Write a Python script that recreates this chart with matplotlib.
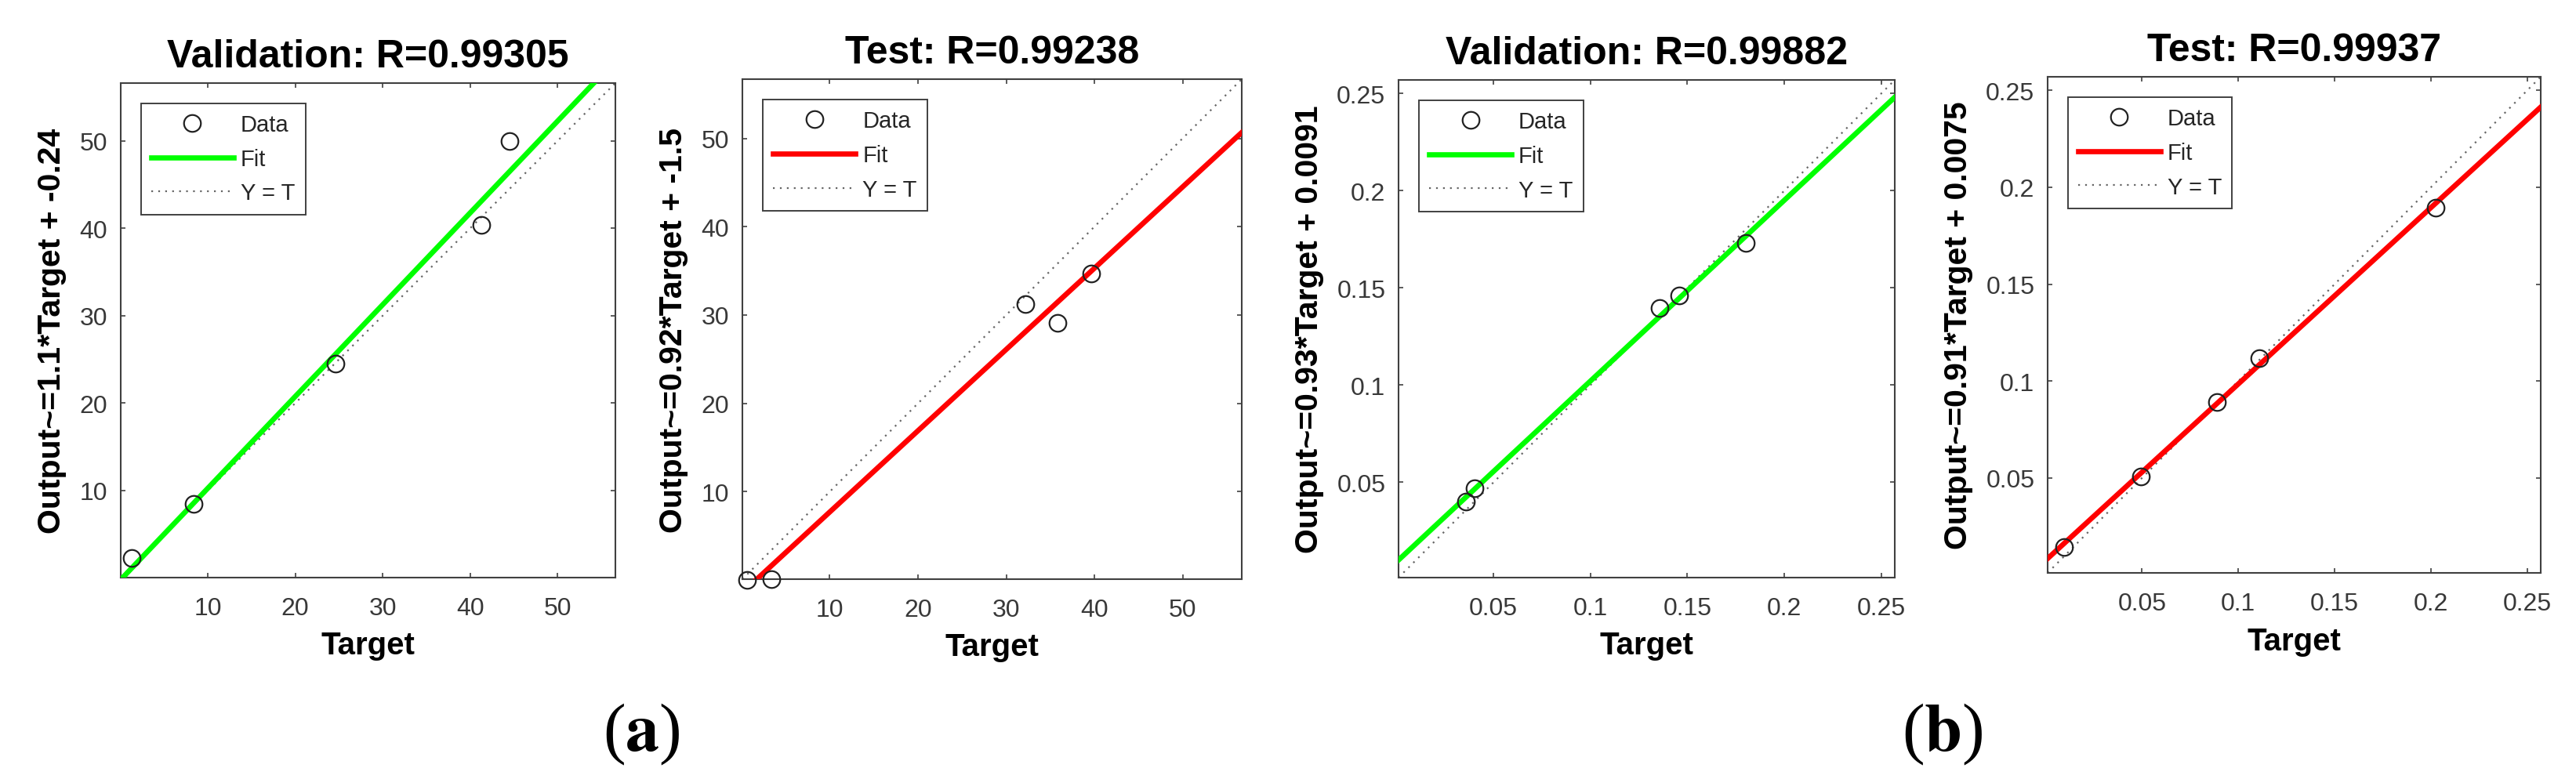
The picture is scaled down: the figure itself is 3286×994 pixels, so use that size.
import matplotlib
matplotlib.use("Agg")
import matplotlib.pyplot as plt
from matplotlib.ticker import FormatStrFormatter

plt.rcParams['font.family'] = ['Liberation Sans', 'DejaVu Sans']
plt.rcParams['mathtext.fontset'] = 'stix'

# data
titles = ["Validation: R=0.99305", "Test: R=0.99238",
          "Validation: R=0.99882", "Test: R=0.99937"]
ylabels = ["Output~=1.1*Target + -0.24", "Output~=0.92*Target + -1.5",
           "Output~=0.93*Target + 0.0091", "Output~=0.91*Target + 0.0075"]

val_a_target = [1.3, 8.4, 24.6, 41.3, 44.5]
val_a_output = [2.3, 8.5, 24.5, 40.4, 50.0]
test_a_target = [0.65, 3.4, 32.2, 35.8, 39.6]
test_a_output = [0.0, 0.1, 31.2, 29.1, 34.7]
val_b_target = [0.0357, 0.0404, 0.1356, 0.1456, 0.180]
val_b_output = [0.040, 0.0471, 0.1398, 0.146, 0.1733]
test_b_target = [0.0094, 0.0496, 0.0889, 0.111, 0.2023]
test_b_output = [0.0143, 0.0507, 0.089, 0.112, 0.1894]

fit_slope = [1.05, 0.92, 0.93, 0.91]
fit_intercept = [-0.24, -1.5, 0.0091, 0.0075]
fit_colors = ["#00ff00", "#ff0000", "#00ff00", "#ff0000"]

ticks_a = [10, 20, 30, 40, 50]
ticks_b = [0.05, 0.1, 0.15, 0.2, 0.25]
limits = [(0.05, 56.6), (0.1, 56.7), (0.001, 0.257), (0.001, 0.257)]

targets = [val_a_target, test_a_target, val_b_target, test_b_target]
outputs = [val_a_output, test_a_output, val_b_output, test_b_output]
tick_sets = [ticks_a, ticks_a, ticks_b, ticks_b]

W, H = 3286, 995
fig = plt.figure(figsize=(W / 100, H / 100), dpi=100)

# axes boxes in pixels: left, right, top, bottom
boxes = [(154, 785, 107, 738), (947, 1584, 102, 740),
         (1784, 2417, 103, 738), (2612, 3241, 99, 732)]

for i in range(4):
    l, r, t, b = boxes[i]
    ax = fig.add_axes([l / W, 1 - b / H, (r - l) / W, (b - t) / H])
    lo, hi = limits[i]
    ax.plot(targets[i], outputs[i], 'o', mfc='none', mec='#222222',
            ms=15.5, mew=1.6, label='Data', zorder=4, clip_on=False)
    ax.plot([lo, hi], [fit_slope[i] * lo + fit_intercept[i], fit_slope[i] * hi + fit_intercept[i]],
            '-', color=fit_colors[i], lw=4.8, label='Fit', zorder=3)
    ax.plot([lo, hi], [lo, hi], color='#666666', lw=1.6, dashes=(1, 3),
            label='Y = T', zorder=2)
    ax.set_xlim(lo, hi)
    ax.set_ylim(lo, hi)
    ax.set_xticks(tick_sets[i])
    ax.set_yticks(tick_sets[i])
    if i >= 2:
        ax.xaxis.set_major_formatter(FormatStrFormatter('%g'))
        ax.yaxis.set_major_formatter(FormatStrFormatter('%g'))
    ax.tick_params(direction='in', length=4, width=1.2, top=True, right=True,
                   labelsize=23, labelcolor='#383838', color='#404040')
    ax.tick_params(axis='x', pad=17)
    ax.tick_params(axis='y', pad=12)
    for s in ax.spines.values():
        s.set_color('#404040')
        s.set_linewidth(1.5)
    ax.set_title(titles[i], fontsize=36, fontweight='bold', pad=15)
    ax.set_xlabel('Target', fontsize=29, fontweight='bold', labelpad=10)
    ax.set_ylabel(ylabels[i], fontsize=29.5, fontweight='bold', labelpad=12)
    leg = ax.legend(loc='upper left', bbox_to_anchor=(0.041, 0.959), borderaxespad=0,
                    fontsize=21, fancybox=False, framealpha=1, edgecolor='#404040',
                    handlelength=3.6, handletextpad=0.31, labelspacing=0.54,
                    borderpad=0.45)
    leg.get_frame().set_linewidth(1.4)
    for txt in leg.get_texts():
        txt.set_color('#262626')

fig.text(818 / W, 1 - 958 / H, r'($\mathbf{a}$)', fontsize=62, family='Liberation Serif',
         ha='center', va='baseline')
fig.text(2478 / W, 1 - 958 / H, r'($\mathbf{b}$)', fontsize=62, family='Liberation Serif',
         ha='center', va='baseline')

fig.savefig('out.png', dpi=100)
